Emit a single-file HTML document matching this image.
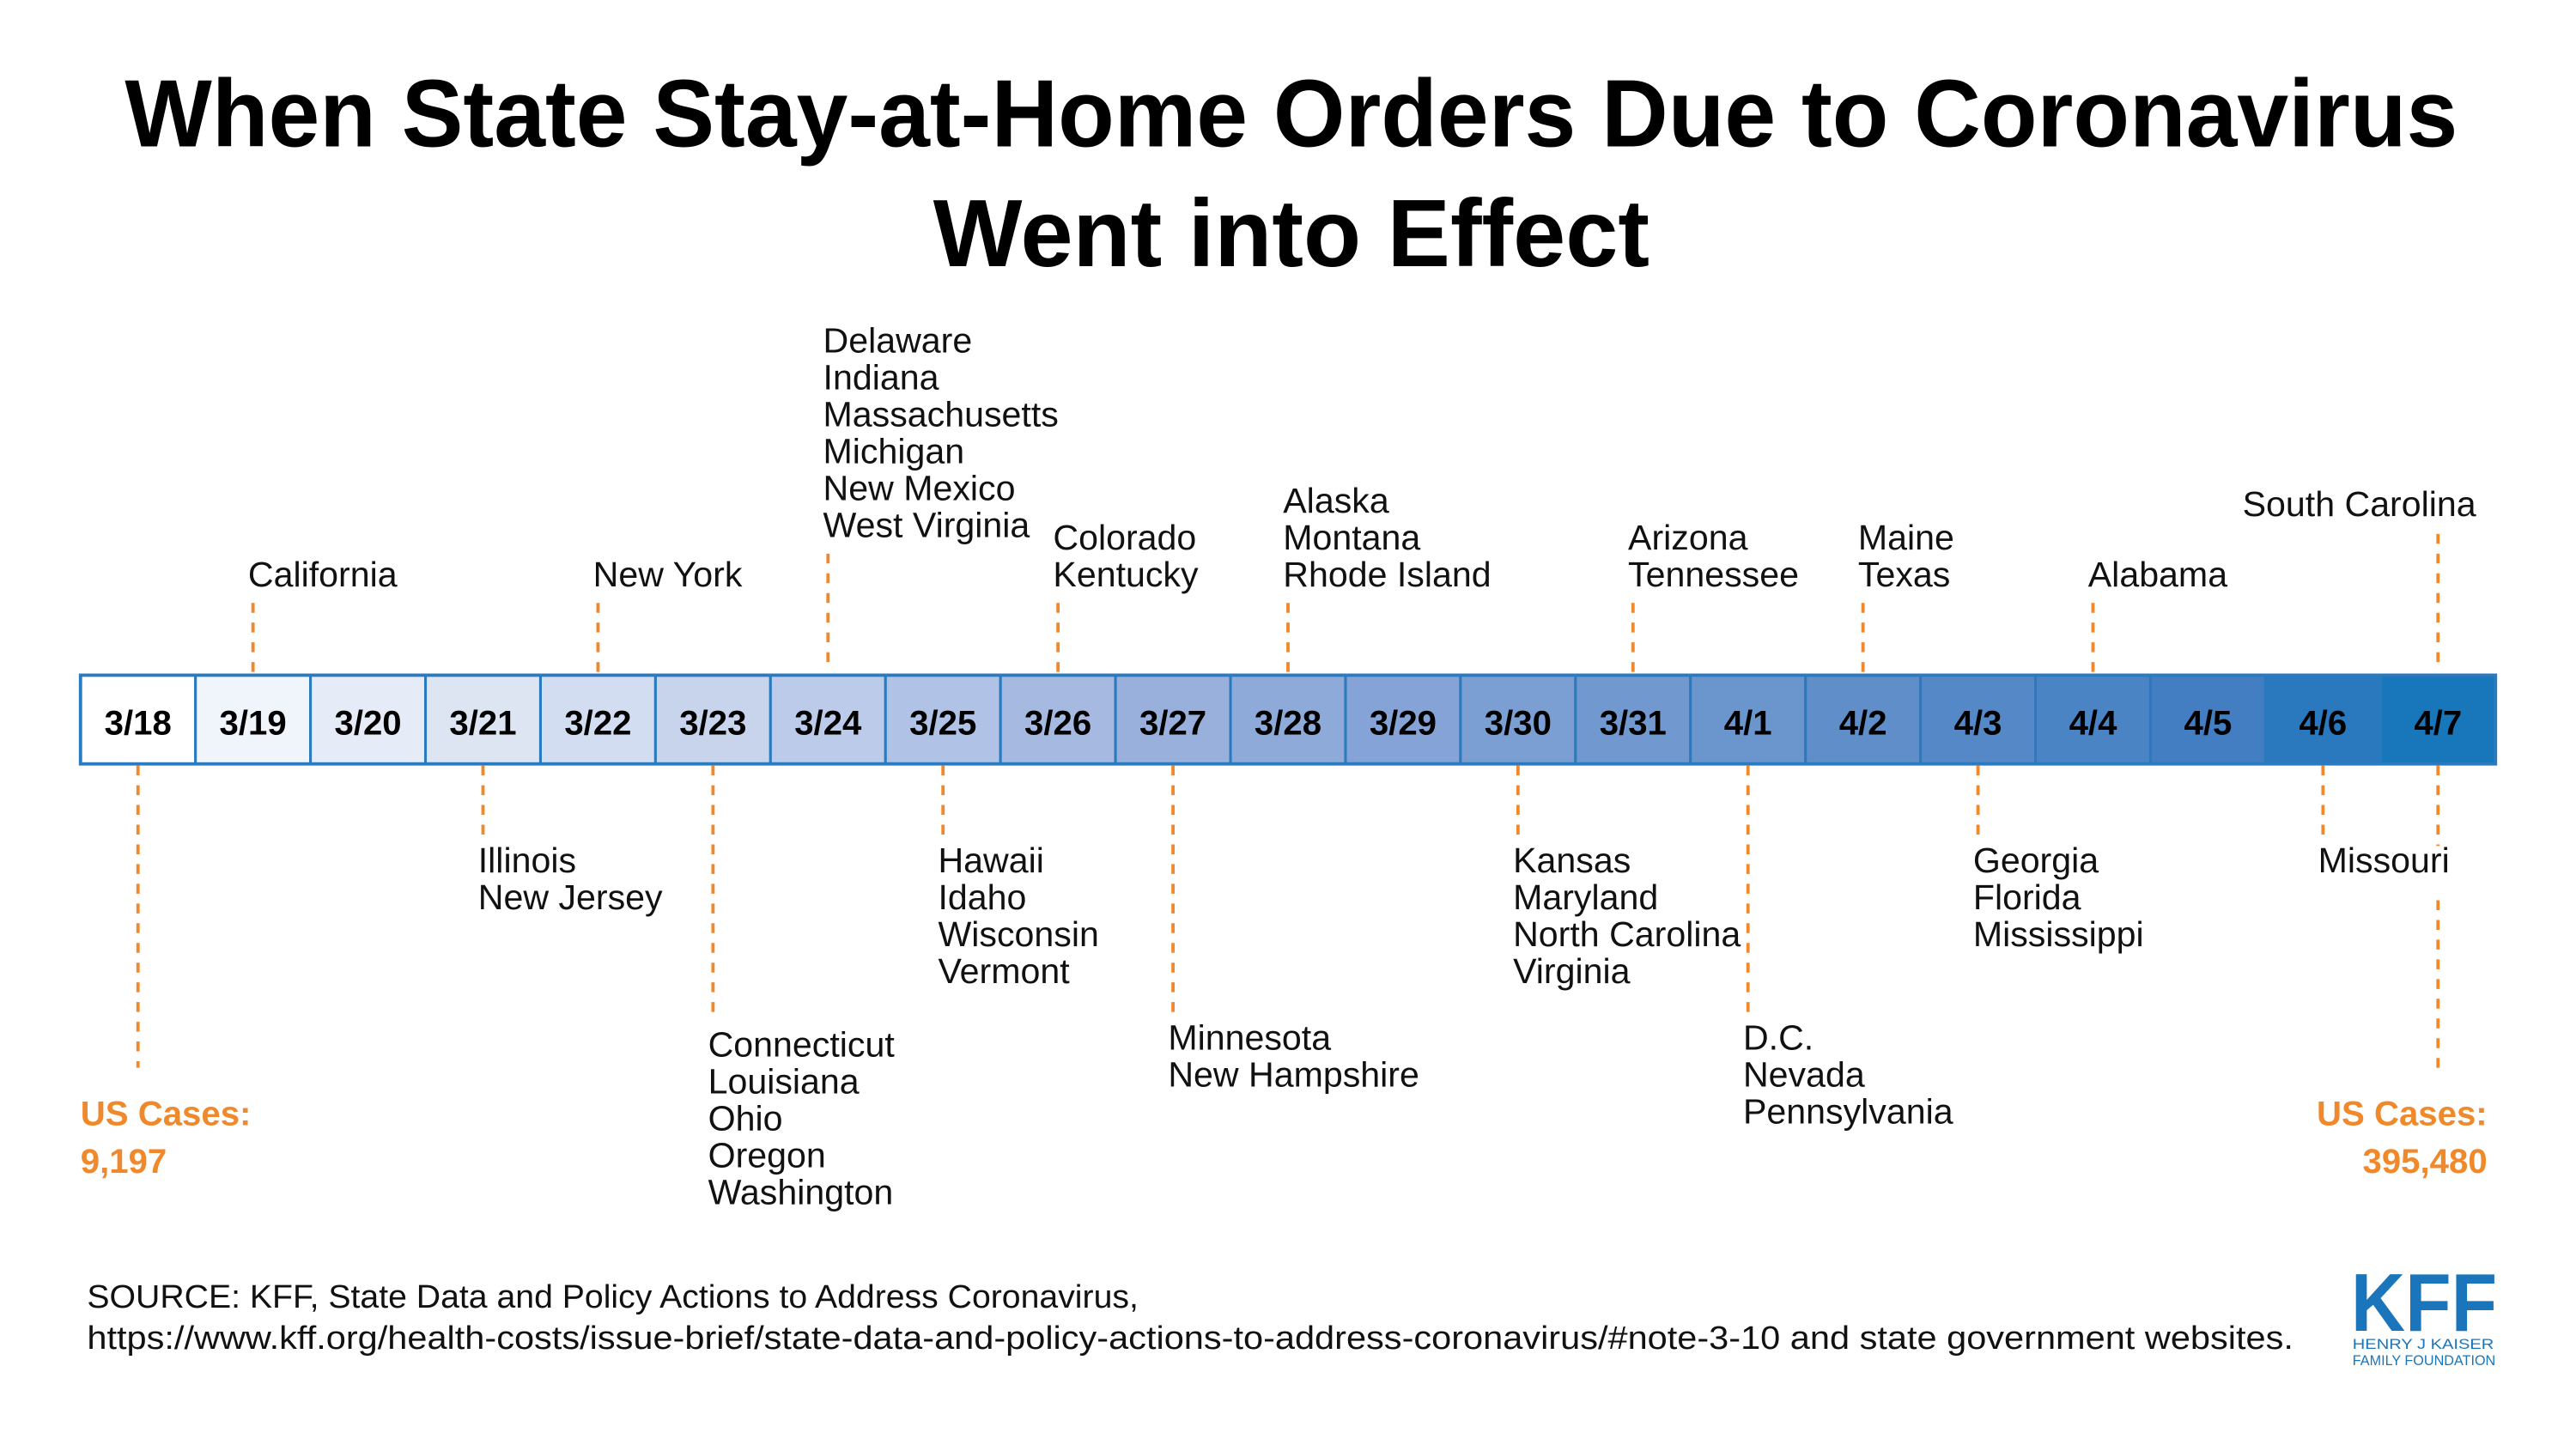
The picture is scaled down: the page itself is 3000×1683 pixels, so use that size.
<!DOCTYPE html>
<html><head><meta charset="utf-8"><style>
html,body{margin:0;padding:0;background:#fff}
svg{display:block}
text{font-family:"Liberation Sans",sans-serif}
</style></head><body>
<svg id="chart" width="3000" height="1683" viewBox="0 0 1568 879.6" xmlns="http://www.w3.org/2000/svg">
<rect width="1570" height="880" fill="#fff"/>
<text x="786" y="89" text-anchor="middle" font-size="58" font-weight="bold" textLength="1420" lengthAdjust="spacingAndGlyphs" fill="#000">When State Stay-at-Home Orders Due to Coronavirus</text>
<text x="786" y="162" text-anchor="middle" font-size="58" font-weight="bold" textLength="436" lengthAdjust="spacingAndGlyphs" fill="#000">Went into Effect</text>
<g id="bar"></g>
<g id="events"></g>
<text font-size="21" font-weight="bold" fill="#f0892b"><tspan x="49" y="685">US Cases:</tspan><tspan x="49" y="714">9,197</tspan></text>
<text font-size="21" font-weight="bold" fill="#f0892b" text-anchor="end"><tspan x="1514" y="685">US Cases:</tspan><tspan x="1514" y="714">395,480</tspan></text>
<text font-size="20" fill="#111"><tspan x="53" y="796" textLength="640" lengthAdjust="spacingAndGlyphs">SOURCE: KFF, State Data and Policy Actions to Address Coronavirus,</tspan><tspan x="53" y="821" textLength="1343" lengthAdjust="spacingAndGlyphs">https://www.kff.org/health-costs/issue-brief/state-data-and-policy-actions-to-address-coronavirus/#note-3-10 and state government websites.</tspan></text>
<g fill="#1a75bb">
<text x="1431" y="810" font-size="50" font-weight="bold" textLength="89" lengthAdjust="spacingAndGlyphs">KFF</text>
<text x="1432" y="821" font-size="8.5" textLength="86" lengthAdjust="spacingAndGlyphs">HENRY J KAISER</text>
<text x="1432" y="831" font-size="8.5" textLength="87" lengthAdjust="spacingAndGlyphs">FAMILY FOUNDATION</text>
</g>
</svg>
<script>
const dates = ["3/18","3/19","3/20","3/21","3/22","3/23","3/24","3/25","3/26","3/27","3/28","3/29","3/30","3/31","4/1","4/2","4/3","4/4","4/5","4/6","4/7"];
const cellColors = ["#ffffff","#f0f4fb","#e6ecf7","#dde5f3","#d2ddf1","#c8d4ec","#bccbe9","#b0c2e5","#a5b9e1","#99b0dc","#8eaad9","#85a3d6","#7b9ed3","#7199cf","#6a96cd","#5f8ec9","#5588c6","#4b84c4","#427ec1","#2a79bf","#1876bb"];
const eventDates = ["3/19","3/22","3/24","3/26","3/28","3/31","4/2","4/4","4/7","3/21","3/23","3/25","3/27","3/30","4/1","4/3","4/6"];
const eventStates = [["California"],["New York"],["Delaware","Indiana","Massachusetts","Michigan","New Mexico","West Virginia"],["Colorado","Kentucky"],["Alaska","Montana","Rhode Island"],["Arizona","Tennessee"],["Maine","Texas"],["Alabama"],["South Carolina"],["Illinois","New Jersey"],["Connecticut","Louisiana","Ohio","Oregon","Washington"],["Hawaii","Idaho","Wisconsin","Vermont"],["Minnesota","New Hampshire"],["Kansas","Maryland","North Carolina","Virginia"],["D.C.","Nevada","Pennsylvania"],["Georgia","Florida","Mississippi"],["Missouri"]];
const eventSide = ["above","above","above","above","above","above","above","above","above","below","below","below","below","below","below","below","below"];

const NS="http://www.w3.org/2000/svg";
const x0=49, x1=1519, barTop=411, barBot=465;
const cw=(x1-x0)/dates.length;
function xCell(d){return x0+dates.indexOf(d)*cw;}
function xCenter(d){return xCell(d)+cw/2;}
function mk(tag,attrs,parent){const e=document.createElementNS(NS,tag);for(const k in attrs)e.setAttribute(k,attrs[k]);parent.appendChild(e);return e;}
const bar=document.getElementById('bar');
dates.forEach((d,i)=>{
  const r=mk('rect',{x:xCell(d),y:barTop,width:cw,height:barBot-barTop,fill:cellColors[i],stroke:"#2a7abf","stroke-width":1.6},bar);
  
  
  const t=mk('text',{x:xCenter(d),y:447,"text-anchor":"middle","font-size":21,"font-weight":"bold",fill:"#000"},bar);
  t.textContent=d;
  
  
});
mk('rect',{x:x0,y:barTop,width:x1-x0,height:barBot-barTop,fill:"none",stroke:"#2a7abf","stroke-width":2},bar);

const ev=document.getElementById('events');
const lh=22.5;
eventDates.forEach((d,i)=>{
  const states=eventStates[i], cx=xCenter(d);
  const g=mk('g',{},ev);
  
  
  let tx=cx-3, yTop, y1, y2;
  if(eventSide[i]==="above"){
    y2=barTop-2; y1=367;
    if(states.length>=6) y1=337;
    const lastBase=y1-10;
    yTop=lastBase-(states.length-1)*lh;
    if(d==="4/7"){tx=1365;y1=325;yTop=314;}
    mk('line',{x1:cx,y1:y1,x2:cx,y2:y2,stroke:"#f0892b","stroke-width":2,"stroke-dasharray":"6,6"},g);
    states.forEach((s,j)=>{const t=mk('text',{x:tx,y:yTop+j*lh,"font-size":21.5,fill:"#111"},g);t.textContent=s;});
  } else {
    y1=barBot+1;
    const big=(d==="3/23"||d==="3/27"||d==="4/1");
    y2=big?621:513;
    yTop=y2+18;
    if(d==="3/23")yTop=643;
    mk('line',{x1:cx,y1:y1,x2:cx,y2:y2,stroke:"#f0892b","stroke-width":2,"stroke-dasharray":"6,6"},g);
    states.forEach((s,j)=>{const t=mk('text',{x:tx,y:yTop+j*lh,"font-size":21.5,fill:"#111"},g);t.textContent=s;});
  }
});
const gl=mk('g',{},ev);


mk('line',{x1:xCenter("3/18"),y1:barBot+1,x2:xCenter("3/18"),y2:650,stroke:"#f0892b","stroke-width":2,"stroke-dasharray":"6,6"},gl);
mk('line',{x1:xCenter("4/7"),y1:barBot+1,x2:xCenter("4/7"),y2:515,stroke:"#f0892b","stroke-width":2,"stroke-dasharray":"6,6"},gl);
mk('line',{x1:xCenter("4/7"),y1:548,x2:xCenter("4/7"),y2:650,stroke:"#f0892b","stroke-width":2,"stroke-dasharray":"6,6"},gl);
</script>
</body></html>
